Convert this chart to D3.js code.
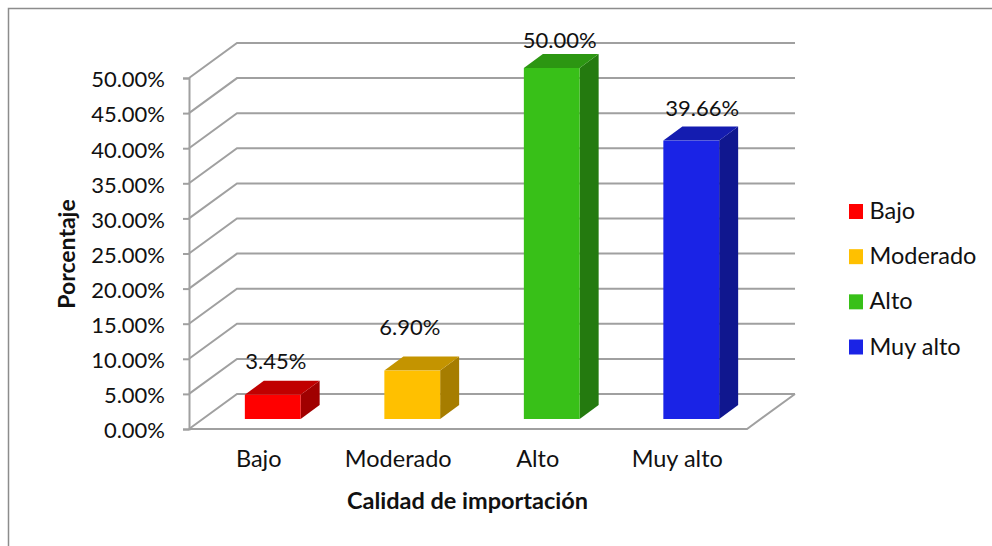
<!DOCTYPE html>
<html>
<head>
<meta charset="utf-8">
<script src="https://cdn.jsdelivr.net/npm/d3@7"></script>
<style>
  html, body { margin: 0; background: #fff; }
  text { font-family: Lato, 'Open Sans', sans-serif; fill: #111; }
</style>
</head>
<body>
<svg id="chart"></svg>
<script>
const categories = ['Bajo', 'Moderado', 'Alto', 'Muy alto'];
const values = [3.45, 6.90, 50.00, 39.66];
const yTicks = [0, 5, 10, 15, 20, 25, 30, 35, 40, 45, 50];
const xTitle = 'Calidad de importación';
const yTitle = 'Porcentaje';

const frontColors = ['#ff0000', '#ffc000', '#38c018', '#1a23e6'];
const topColors = ['#c00000', '#c49400', '#2c9612', '#141cb0'];
const sideColors = ['#a00000', '#a67d00', '#247a0f', '#10178f'];

const width = 992;
const height = 546;
const left = 189;
const right = 747;
const floorY = 429;
const topY = 78;
const depth = { x: 48, y: -35 };
const barDepth = { x: 19, y: -14 };
const gridColor = '#a0a0a0';

const svg = d3.select('#chart').attr('width', width).attr('height', height)
  .style('display', 'block');

// Only the top and left edges of the outer frame are in the picture
svg.append('path')
  .attr('d', `M8.5,${height} V8.5 H${width}`)
  .attr('fill', 'none')
  .attr('stroke', '#8c8c8c')
  .attr('stroke-width', 1.5);

const y = d3.scaleLinear().domain([0, 50]).range([floorY, topY]);
const xAxisBand = d3.scaleBand().domain(categories).range([left, right]);
// bars sit in the middle of the floor depth
const xBars = d3.scaleBand().domain(categories)
  .range([left + 14, right + 14])
  .paddingInner(0.6)
  .paddingOuter(0.3);
const barY = v => y(v) - 10;
const barBase = y(0) - 10;

// Walls: each gridline runs from the front axis back and across
svg.append('g').selectAll('path')
  .data(yTicks)
  .enter().append('path')
    .attr('fill', 'none')
    .attr('stroke', gridColor)
    .attr('stroke-width', 2)
    .attr('d', d => `M${left},${y(d)} L${left + depth.x},${y(d) + depth.y} H${right + depth.x}`);

// Floor front and right edges
svg.append('path')
  .attr('fill', 'none')
  .attr('stroke', gridColor)
  .attr('stroke-width', 2)
  .attr('d', `M${left},${floorY} H${right} L${right + depth.x},${floorY + depth.y}`);

const yAxis = d3.axisLeft(y)
  .tickValues(yTicks)
  .tickSize(6)
  .tickPadding(18)
  .tickFormat(d => d3.format('.2f')(d) + '%');
const yG = svg.append('g')
  .attr('transform', `translate(${left}, 0)`)
  .call(yAxis);
yG.select('.domain').attr('stroke', gridColor).attr('stroke-width', 2);
yG.selectAll('.tick line').attr('stroke', gridColor).attr('stroke-width', 2);
yG.selectAll('.tick text')
  .attr('font-size', 22)
  .attr('dy', '0.4em')
  .style('font-family', 'Lato, sans-serif')
  .attr('fill', '#111');

const xAxis = d3.axisBottom(xAxisBand).tickSize(0).tickPadding(21);
const xG = svg.append('g')
  .attr('transform', `translate(0, ${floorY})`)
  .call(xAxis);
xG.select('.domain').remove();
xG.selectAll('.tick text')
  .attr('font-size', 23.5)
  .style('font-family', 'Lato, sans-serif')
  .attr('fill', '#111');

// Bars: side, top, then front
const bars = svg.append('g').selectAll('g')
  .data(categories)
  .enter().append('g');
bars.append('path')
  .attr('fill', (d, i) => sideColors[i])
  .attr('d', (d, i) => {
    const x1 = xBars(d) + xBars.bandwidth();
    return `M${x1},${barY(values[i])} l${barDepth.x},${barDepth.y} V${barBase + barDepth.y} l${-barDepth.x},${-barDepth.y} Z`;
  });
bars.append('path')
  .attr('fill', (d, i) => topColors[i])
  .attr('d', (d, i) => `M${xBars(d)},${barY(values[i])} l${barDepth.x},${barDepth.y} h${xBars.bandwidth()} l${-barDepth.x},${-barDepth.y} Z`);
bars.append('rect')
  .attr('fill', (d, i) => frontColors[i])
  .attr('x', d => xBars(d))
  .attr('y', (d, i) => barY(values[i]))
  .attr('width', xBars.bandwidth())
  .attr('height', (d, i) => barBase - barY(values[i]));

// Value labels were dragged by hand in the original, so each has its own nudge
const labelNudge = [[3, -26], [-2.5, -36], [8, -20], [11, -25]];
bars.append('text')
  .attr('text-anchor', 'middle')
  .attr('font-size', 22)
  .attr('x', (d, i) => xBars(d) + xBars.bandwidth() / 2 + labelNudge[i][0])
  .attr('y', (d, i) => barY(values[i]) + labelNudge[i][1])
  .text((d, i) => d3.format('.2f')(values[i]) + '%');

// Axis titles
svg.append('text')
  .attr('text-anchor', 'middle')
  .attr('font-size', 23)
  .attr('font-weight', 'bold')
  .attr('transform', 'translate(75, 254) rotate(-90)')
  .text(yTitle);
svg.append('text')
  .attr('text-anchor', 'middle')
  .attr('font-size', 23.5)
  .attr('font-weight', 'bold')
  .attr('x', 467.5)
  .attr('y', 509)
  .text(xTitle);

// Legend
const legendY = d3.scalePoint().domain(categories).range([211.5, 347]);
const legend = svg.append('g').selectAll('g')
  .data(categories)
  .enter().append('g')
    .attr('transform', d => `translate(849, ${legendY(d)})`);
legend.append('rect')
  .attr('y', -7.5)
  .attr('width', 14)
  .attr('height', 15)
  .attr('fill', (d, i) => frontColors[i]);
legend.append('text')
  .attr('x', 20.5)
  .attr('y', 7.5)
  .attr('font-size', 23.5)
  .text(d => d);
</script>
</body>
</html>
